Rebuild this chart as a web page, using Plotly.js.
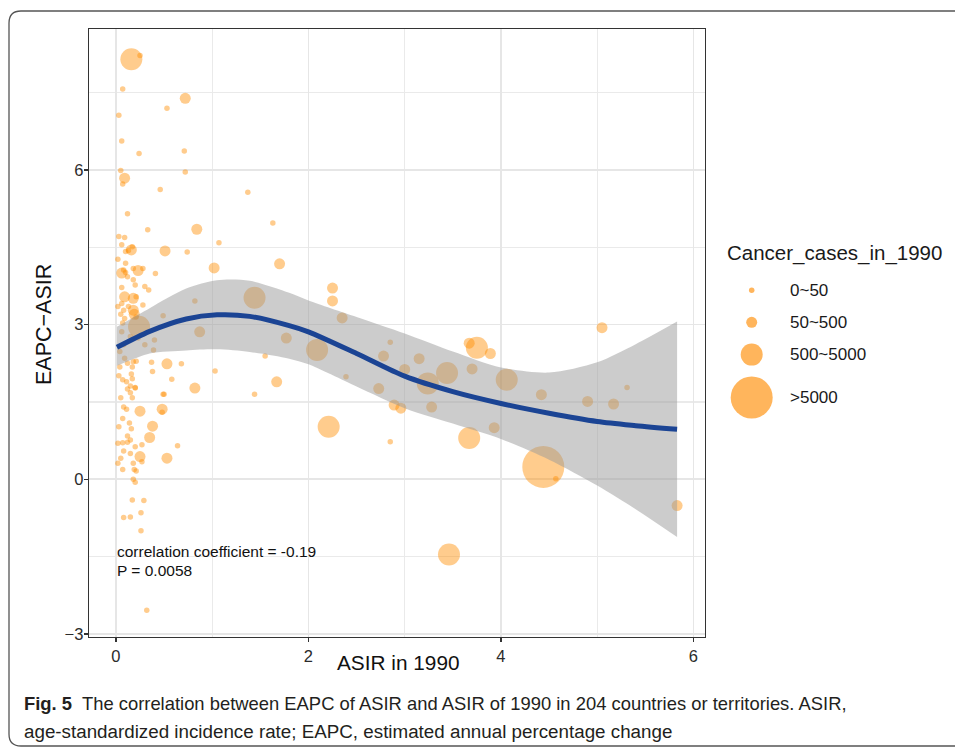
<!DOCTYPE html>
<html>
<head>
<meta charset="utf-8">
<script src="https://cdn.plot.ly/plotly-3.0.1.min.js"></script>
<style>
  html, body { margin: 0; padding: 0; background: #ffffff; }
  #chart { width: 955px; height: 749px; }
</style>
</head>
<body>
<div id="chart"></div>
<script>
// ---------- data ----------
const asir = [0.16,0.25,0.07,0.72,0.53,0.03,0.06,0.24,0.71,0.05,
0.09,0.07,0.72,0.46,1.37,0.12,1.63,0.33,0.84,0.03,
0.09,1.07,0.06,0.16,0.10,0.17,0.51,0.74,0.02,0.10,
1.02,1.70,0.06,0.23,0.18,0.28,0.41,0.10,0.08,0.13,
0.12,0.18,0.06,0.20,0.30,0.34,0.09,0.18,0.21,0.02,
0.06,0.13,0.08,0.18,0.19,0.21,0.24,0.28,0.05,0.09,
0.07,0.82,0.49,0.87,0.06,0.15,0.23,0.30,0.40,0.39,
0.08,0.04,0.09,0.18,0.12,0.37,0.53,0.68,0.21,0.04,
0.17,0.38,0.03,0.07,0.17,0.11,0.16,0.58,0.82,0.20,
0.20,0.15,0.12,0.15,0.50,0.49,0.05,0.17,0.08,0.11,
0.25,0.48,0.48,0.07,0.14,0.03,0.16,0.38,0.12,0.35,
0.15,0.02,0.07,0.12,0.20,0.27,0.64,0.08,0.15,0.25,
0.27,0.53,0.05,0.02,0.18,0.07,0.19,0.21,0.18,0.20,
0.17,0.29,0.08,0.15,0.26,0.26,0.32,1.03,1.67,1.44,
1.44,1.55,1.77,2.25,2.25,2.35,2.09,2.39,2.21,2.85,
2.78,3.15,3.00,2.73,3.24,3.44,3.67,3.75,3.89,3.70,
4.06,2.89,2.96,3.28,3.93,2.85,3.67,5.05,4.42,4.90,
5.17,5.31,4.44,4.57,3.46,5.83];

const eapcAsir = [8.15,8.22,7.57,7.39,7.20,7.06,6.56,6.32,6.37,5.99,
5.84,5.73,5.96,5.62,5.57,5.15,4.97,4.84,4.85,4.71,
4.69,4.59,4.55,4.45,4.42,4.51,4.43,4.41,4.27,4.19,
4.10,4.18,4.00,4.05,4.09,4.09,3.99,4.01,4.06,4.44,
3.93,3.87,3.72,3.77,3.74,3.67,3.54,3.51,3.54,3.35,
3.41,3.35,3.28,3.28,3.20,3.15,2.96,3.38,3.20,3.12,
3.03,3.46,3.17,2.86,2.86,2.77,2.74,2.61,2.70,2.51,
2.61,2.48,2.35,2.28,2.25,2.27,2.24,2.24,2.29,2.18,
2.18,2.09,2.01,1.93,1.95,1.89,2.04,1.94,1.77,1.78,
1.77,1.81,1.75,1.68,1.65,1.65,1.58,1.58,1.40,1.36,
1.32,1.36,1.30,1.18,1.09,1.02,0.98,1.03,0.84,0.81,
0.76,0.70,0.71,0.72,0.63,0.67,0.65,0.55,0.50,0.44,
0.34,0.41,0.41,0.31,0.31,0.19,0.19,0.16,0.00,-0.06,
-0.40,-0.41,-0.74,-0.73,-0.65,-1.00,-2.54,2.10,1.89,1.65,
3.52,2.39,2.74,3.71,3.46,3.13,2.51,1.99,1.02,2.66,
2.39,2.34,2.13,1.76,1.86,2.06,2.64,2.55,2.44,2.14,
1.93,1.44,1.38,1.40,1.00,0.73,0.80,2.94,1.64,1.51,
1.46,1.78,0.24,0.01,-1.46,-0.51];

// case-count class: 1 = 0~50, 2 = 50~500, 3 = 500~5000, 4 = >5000
const caseClass = [3,1,1,2,1,1,1,1,1,1,
2,1,1,1,1,1,1,1,2,1,
1,1,1,2,1,1,2,1,1,1,
2,2,2,2,1,1,1,1,1,1,
1,1,1,1,1,1,2,2,1,1,
1,1,1,2,2,1,3,1,1,1,
1,1,1,2,1,1,1,1,1,1,
1,1,1,1,1,1,2,1,1,1,
1,1,1,1,1,1,1,1,2,1,
1,1,1,1,1,1,1,1,1,1,
2,2,1,1,1,1,1,2,1,2,
1,1,1,1,1,1,1,1,1,2,
1,2,1,1,1,1,1,1,1,1,
1,1,1,1,1,1,1,1,2,1,
3,1,2,2,2,2,3,1,3,1,
2,2,2,2,3,3,2,3,2,2,
3,2,2,2,2,1,3,2,2,2,
2,1,4,1,3,2];

const classLabels = ["0~50", "50~500", "500~5000", ">5000"];

// smooth fit and its confidence band
const fitX     = [0.01, 0.35, 0.73, 1.05, 1.39, 1.80, 2.00, 2.50, 3.00, 3.50, 4.00, 4.50, 5.00, 5.40, 5.83];
const fitY     = [2.56, 2.87, 3.11, 3.19, 3.16, 2.98, 2.86, 2.44, 2.00, 1.70, 1.47, 1.28, 1.12, 1.04, 0.97];
const fitUpper = [2.96, 3.32, 3.70, 3.86, 3.85, 3.62, 3.47, 3.15, 2.83, 2.48, 2.17, 2.07, 2.27, 2.62, 3.06];
const fitLower = [2.20, 2.44, 2.50, 2.52, 2.47, 2.34, 2.23, 1.80, 1.38, 1.08, 0.78, 0.38, -0.12, -0.58, -1.12];

const xTickVals = [0, 2, 4, 6];
const yTickVals = [-3, 0, 3, 6];

// ---------- styling ----------
const sizeByClass = {1: 5.5, 2: 11, 3: 22, 4: 42};
const dotColor = 'rgba(255,140,0,0.64)';
const FONT = 'Liberation Sans, Arial, Helvetica, sans-serif';

const L = 89, R = 705, T = 29, B = 637, W = 955, H = 749;
const pxX = p => (p - L) / (R - L);
const pxY = p => (B - p) / (B - T);

const traces = [
  {
    type: 'scatter', mode: 'markers',
    x: asir, y: eapcAsir,
    marker: { size: caseClass.map(c => sizeByClass[c]), color: dotColor, line: { width: 0 } },
    hoverinfo: 'skip', showlegend: false
  },
  {
    type: 'scatter', mode: 'lines', x: fitX, y: fitLower,
    line: { width: 0, shape: 'spline', smoothing: 0.8 }, hoverinfo: 'skip', showlegend: false
  },
  {
    type: 'scatter', mode: 'lines', x: fitX, y: fitUpper,
    line: { width: 0, shape: 'spline', smoothing: 0.8 }, fill: 'tonexty',
    fillcolor: 'rgba(153,153,153,0.5)', hoverinfo: 'skip', showlegend: false
  },
  {
    type: 'scatter', mode: 'lines', x: fitX, y: fitY,
    line: { width: 5, color: '#1B4494', shape: 'spline', smoothing: 0.8 },
    hoverinfo: 'skip', showlegend: false
  }
];

// legend (drawn by hand so bubble sizes match)
const legendY = [290.3, 322.3, 354.6, 397.5];
const shapes = [];
const annotations = [];
classLabels.forEach((lab, i) => {
  const d = sizeByClass[i + 1];
  shapes.push({
    type: 'circle', xref: 'paper', yref: 'paper',
    xsizemode: 'pixel', ysizemode: 'pixel',
    xanchor: pxX(751.7), yanchor: pxY(legendY[i]),
    x0: -d / 2, x1: d / 2, y0: -d / 2, y1: d / 2,
    fillcolor: dotColor, line: { width: 0 }
  });
  annotations.push({
    xref: 'paper', yref: 'paper', x: pxX(788), y: pxY(legendY[i]),
    xanchor: 'left', yanchor: 'middle', showarrow: false, text: lab,
    font: { family: FONT, size: 17, color: '#1a1a1a' }
  });
});
annotations.push({
  xref: 'paper', yref: 'paper', x: pxX(725), y: pxY(253),
  xanchor: 'left', yanchor: 'middle', showarrow: false, text: 'Cancer_cases_in_1990',
  font: { family: FONT, size: 20.5, color: '#1a1a1a' }
});

// axis titles
annotations.push({
  xref: 'paper', yref: 'paper', x: pxX(398), y: pxY(662),
  xanchor: 'center', yanchor: 'middle', showarrow: false, text: 'ASIR in 1990',
  font: { family: FONT, size: 20.8, color: '#111' }
});
annotations.push({
  xref: 'paper', yref: 'paper', x: pxX(44), y: pxY(325),
  xanchor: 'center', yanchor: 'middle', showarrow: false, text: 'EAPC\u2212ASIR', textangle: -90,
  font: { family: FONT, size: 21.5, color: '#111' }
});

// statistics text
annotations.push({
  xref: 'paper', yref: 'paper', x: pxX(115), y: pxY(551.5),
  xanchor: 'left', yanchor: 'middle', showarrow: false, text: 'correlation coefficient = -0.19',
  font: { family: FONT, size: 15.5, color: '#111' }
});
annotations.push({
  xref: 'paper', yref: 'paper', x: pxX(115), y: pxY(570),
  xanchor: 'left', yanchor: 'middle', showarrow: false, text: 'P = 0.0058',
  font: { family: FONT, size: 15.5, color: '#111' }
});

// caption
const CAPFONT = 'Liberation Sans, Arial, sans-serif';
annotations.push({
  xref: 'paper', yref: 'paper', x: pxX(22), y: pxY(703),
  xanchor: 'left', yanchor: 'middle', showarrow: false, align: 'left',
  text: '<b>Fig. 5</b>  The correlation between EAPC of ASIR and ASIR of 1990 in 204 countries or territories. ASIR,',
  font: { family: CAPFONT, size: 18.4, color: '#231f20' }
});
annotations.push({
  xref: 'paper', yref: 'paper', x: pxX(22), y: pxY(731),
  xanchor: 'left', yanchor: 'middle', showarrow: false, align: 'left',
  text: 'age-standardized incidence rate; EAPC, estimated annual percentage change',
  font: { family: CAPFONT, size: 18.8, color: '#231f20' }
});

// outer rounded frame of the figure box
const fx0 = 9, fy0 = 11, fy1 = 746, fx1 = 990, rr = 12;
const P = (x, y) => pxX(x) + ',' + pxY(y);
shapes.push({
  type: 'path', xref: 'paper', yref: 'paper', layer: 'below',
  path: 'M' + P(fx1, fy0) + ' L' + P(fx0 + rr, fy0) + ' Q' + P(fx0, fy0) + ' ' + P(fx0, fy0 + rr) +
        ' L' + P(fx0, fy1 - rr) + ' Q' + P(fx0, fy1) + ' ' + P(fx0 + rr, fy1) + ' L' + P(fx1, fy1),
  line: { color: '#555555', width: 1.3 }
});

const axisCommon = {
  showline: true, mirror: true, linecolor: '#333333', linewidth: 1.3,
  ticks: 'outside', ticklen: 4, tickwidth: 1.2, tickcolor: '#333333',
  showgrid: true, gridcolor: '#E6E6E6', gridwidth: 1.7, zeroline: false,
  tickfont: { family: FONT, size: 16.5, color: '#2b2b2b' }
};

const layout = {
  width: W, height: H,
  margin: { l: L, r: W - R, t: T, b: H - B, pad: 0 },
  paper_bgcolor: '#ffffff', plot_bgcolor: '#ffffff',
  showlegend: false, hovermode: false,
  xaxis: Object.assign({}, axisCommon, {
    range: [-0.28, 6.12], tickmode: 'array', tickvals: xTickVals, ticktext: xTickVals.map(String),
    minor: { tickmode: 'linear', tick0: 1, dtick: 2, showgrid: true, gridcolor: '#EAEAEA', gridwidth: 1.3, ticks: '' }
  }),
  yaxis: Object.assign({}, axisCommon, {
    range: [-3.06, 8.735], tickmode: 'array', tickvals: yTickVals, ticktext: yTickVals.map(v => v < 0 ? '\u2212' + Math.abs(v) : String(v)),
    ticklabelstandoff: -3,
    minor: { tickmode: 'linear', tick0: 1.5, dtick: 3, showgrid: true, gridcolor: '#EAEAEA', gridwidth: 1.3, ticks: '' }
  }),
  shapes: shapes,
  annotations: annotations
};

Plotly.newPlot('chart', traces, layout, { displayModeBar: false, staticPlot: true });
</script>
</body>
</html>
